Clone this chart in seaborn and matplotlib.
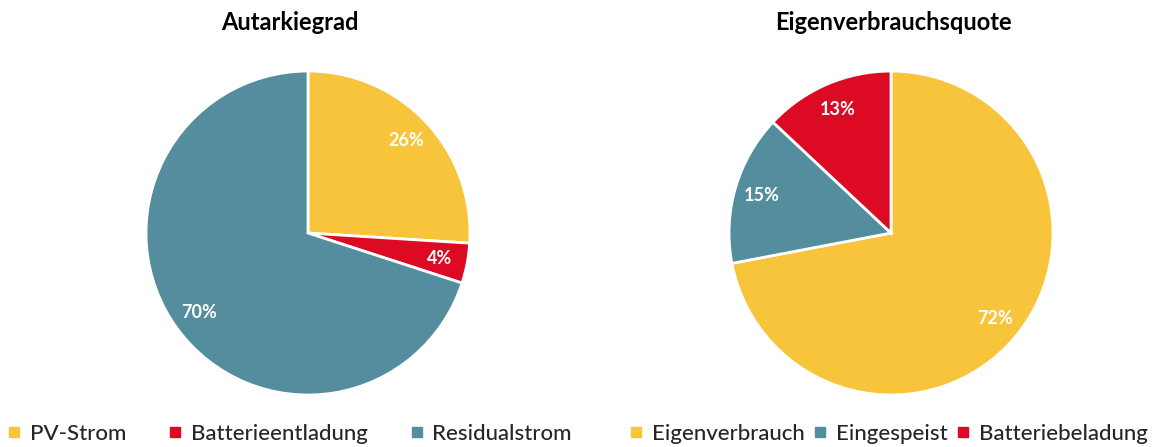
import matplotlib
matplotlib.use("Agg")
import seaborn as sns
import matplotlib.pyplot as plt
from matplotlib.lines import Line2D

sns.set_theme(style="white")
plt.rcParams['font.family'] = ['Lato', 'DejaVu Sans']

# Daten
autarkie_labels = ["PV-Strom", "Batterieentladung", "Residualstrom"]
autarkie_werte = [26, 4, 70]
eigen_labels = ["Eigenverbrauch", "Eingespeist", "Batteriebeladung"]
eigen_werte = [72, 15, 13]

gelb, rot, teal = "#F7C43C", "#DC0A22", "#538D9E"
farben_autarkie = [gelb, rot, teal]
farben_eigen = [gelb, teal, rot]

fig = plt.figure(figsize=(11.57, 4.47), dpi=100)
ax1 = fig.add_axes([0.1262, 0.1163, 0.28, 0.7248])
ax2 = fig.add_axes([0.6301, 0.1163, 0.28, 0.7248])


def torte(ax, werte, farben):
    wedges, _, autotexts = ax.pie(
        werte, colors=farben, startangle=90, counterclock=False,
        autopct='%1.0f%%', pctdistance=0.83, radius=1.0,
        wedgeprops=dict(edgecolor='white', linewidth=2),
        textprops=dict(color='white', fontsize=13, fontweight='bold'))
    ax.set_xlim(-1.0, 1.0)
    ax.set_ylim(-1.0, 1.0)
    ax.set_aspect('equal')
    return wedges


torte(ax1, autarkie_werte, farben_autarkie)
torte(ax2, eigen_werte, farben_eigen)

fig.text(290 / 1157, 1 - 22 / 447, "Autarkiegrad", ha='center', va='center',
         fontsize=17, fontweight='bold', color='black')
fig.text(893 / 1157, 1 - 22 / 447, "Eigenverbrauchsquote", ha='center', va='center',
         fontsize=17, fontweight='bold', color='black')


def handles(farben, labels):
    return [Line2D([0], [0], marker='s', linestyle='none', markersize=7,
                   markerfacecolor=c, markeredgecolor=c, label=l)
            for c, l in zip(farben, labels)]


leg_kw = dict(ncol=3, frameon=False, handlelength=0.5,
              handletextpad=0.45, borderaxespad=0, loc='center left',
              prop=dict(size=16, weight='medium'))
fig.legend(handles=handles(farben_autarkie, autarkie_labels),
           bbox_to_anchor=(0 / 1157, 1 - 434 / 447), columnspacing=1.95, **leg_kw)
fig.legend(handles=handles(farben_eigen, eigen_labels),
           bbox_to_anchor=(622 / 1157, 1 - 434 / 447), columnspacing=0.45, **leg_kw)

fig.savefig("out.png", dpi=100)
